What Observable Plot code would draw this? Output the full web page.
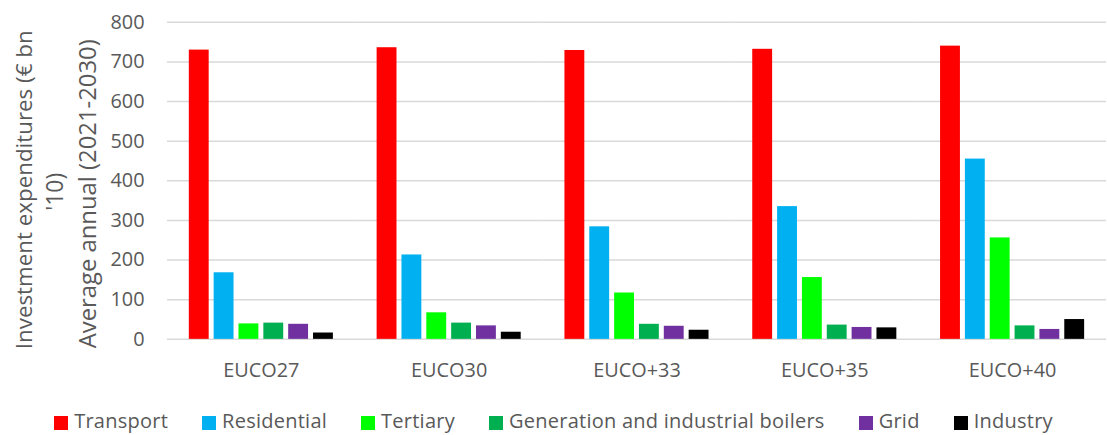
<!DOCTYPE html>
<html>
<head>
<meta charset="utf-8">
<script src="https://cdn.jsdelivr.net/npm/d3@7"></script>
<script src="https://cdn.jsdelivr.net/npm/@observablehq/plot@0.6"></script>
<style>
  html, body { margin: 0; padding: 0; background: #fff; }
  #wrap { width: 1107px; height: 435px; overflow: hidden; position: relative; font-family: "Open Sans", "Liberation Sans", sans-serif; }
  #legend { position: absolute; left: 0; top: 410px; width: 1107px; height: 22px; display: flex; justify-content: center; align-items: center; color: #595959; font-size: 20px; line-height: 22px; }
  .item { display: flex; align-items: center; margin: 0 17px; }
  .sw { width: 14px; height: 14px; margin-right: 6px; position: relative; top: 2px; }
  .lab { letter-spacing: 0.25px; }
</style>
</head>
<body>
<div id="wrap"></div>
<script>
const categories = ["EUCO27", "EUCO30", "EUCO+33", "EUCO+35", "EUCO+40"];
const seriesNames = ["Transport", "Residential", "Tertiary", "Generation and industrial boilers", "Grid", "Industry"];
const seriesColors = ["#ff0000", "#00b0f0", "#00ff00", "#00b050", "#7030a0", "#000000"];
const transport = [730, 736, 729, 732, 740];
const residential = [168, 213, 284, 335, 455];
const tertiary = [39, 67, 117, 156, 256];
const generation = [41, 41, 38, 36, 34];
const grid = [38, 34, 33, 30, 25];
const industry = [16, 18, 23, 29, 50];
const yTicks = [0, 100, 200, 300, 400, 500, 600, 700, 800];

const seriesValues = [transport, residential, tertiary, generation, grid, industry];
const data = [];
categories.forEach((c, i) => {
  seriesNames.forEach((s, j) => data.push({category: c, series: s, value: seriesValues[j][i]}));
});

const chart = Plot.plot({
  width: 1114,
  height: 405,
  marginLeft: 168,
  marginRight: 1,
  marginTop: 22,
  marginBottom: 64,
  style: {fontSize: "20px", fontFamily: "'Open Sans', 'Liberation Sans', sans-serif", color: "#595959", background: "transparent"},
  fx: {domain: categories, paddingInner: 0.2, paddingOuter: 0.1, label: null, axis: null},
  x: {domain: seriesNames, paddingInner: 0.2, paddingOuter: 0.1, axis: null},
  y: {domain: [0, 800], ticks: yTicks, axis: null},
  color: {domain: seriesNames, range: seriesColors},
  marks: [
    Plot.ruleY(yTicks, {stroke: "#d9d9d9", strokeWidth: 1.5, insetLeft: -19, insetRight: -19}),
    Plot.barY(data, {fx: "category", x: "series", y: "value", fill: "series"}),
    Plot.axisFx({anchor: "bottom", tickSize: 0, tickPadding: 24, label: null, fontSize: 20}),
    Plot.axisY(yTicks, {anchor: "left", tickSize: 0, tickPadding: 42, label: null, fontSize: 20})
  ]
});
document.getElementById("wrap").appendChild(chart);

// Y axis title lines
const svg = d3.select(chart.tagName.toLowerCase() === "svg" ? chart : chart.querySelector("svg"));
const titles = [
  {text: "Investment expenditures (€ bn", x: 24, y: 191, size: 22.5},
  {text: "'10)", x: 55, y: 193, size: 23},
  {text: "Average annual (2021-2030)", x: 88, y: 195, size: 24}
];
titles.forEach(t => {
  svg.append("text")
    .attr("transform", `translate(${t.x},${t.y}) rotate(-90)`)
    .attr("text-anchor", "middle")
    .attr("dominant-baseline", "central")
    .attr("fill", "#595959")
    .attr("font-size", t.size)
    .text(t.text);
});

// Legend
const legend = document.createElement("div");
legend.id = "legend";
seriesNames.forEach((s, i) => {
  const item = document.createElement("div");
  item.className = "item";
  const sw = document.createElement("span");
  sw.className = "sw";
  sw.style.background = seriesColors[i];
  const lab = document.createElement("span");
  lab.className = "lab";
  lab.textContent = s;
  item.appendChild(sw);
  item.appendChild(lab);
  legend.appendChild(item);
});
document.getElementById("wrap").appendChild(legend);
</script>
</body>
</html>
